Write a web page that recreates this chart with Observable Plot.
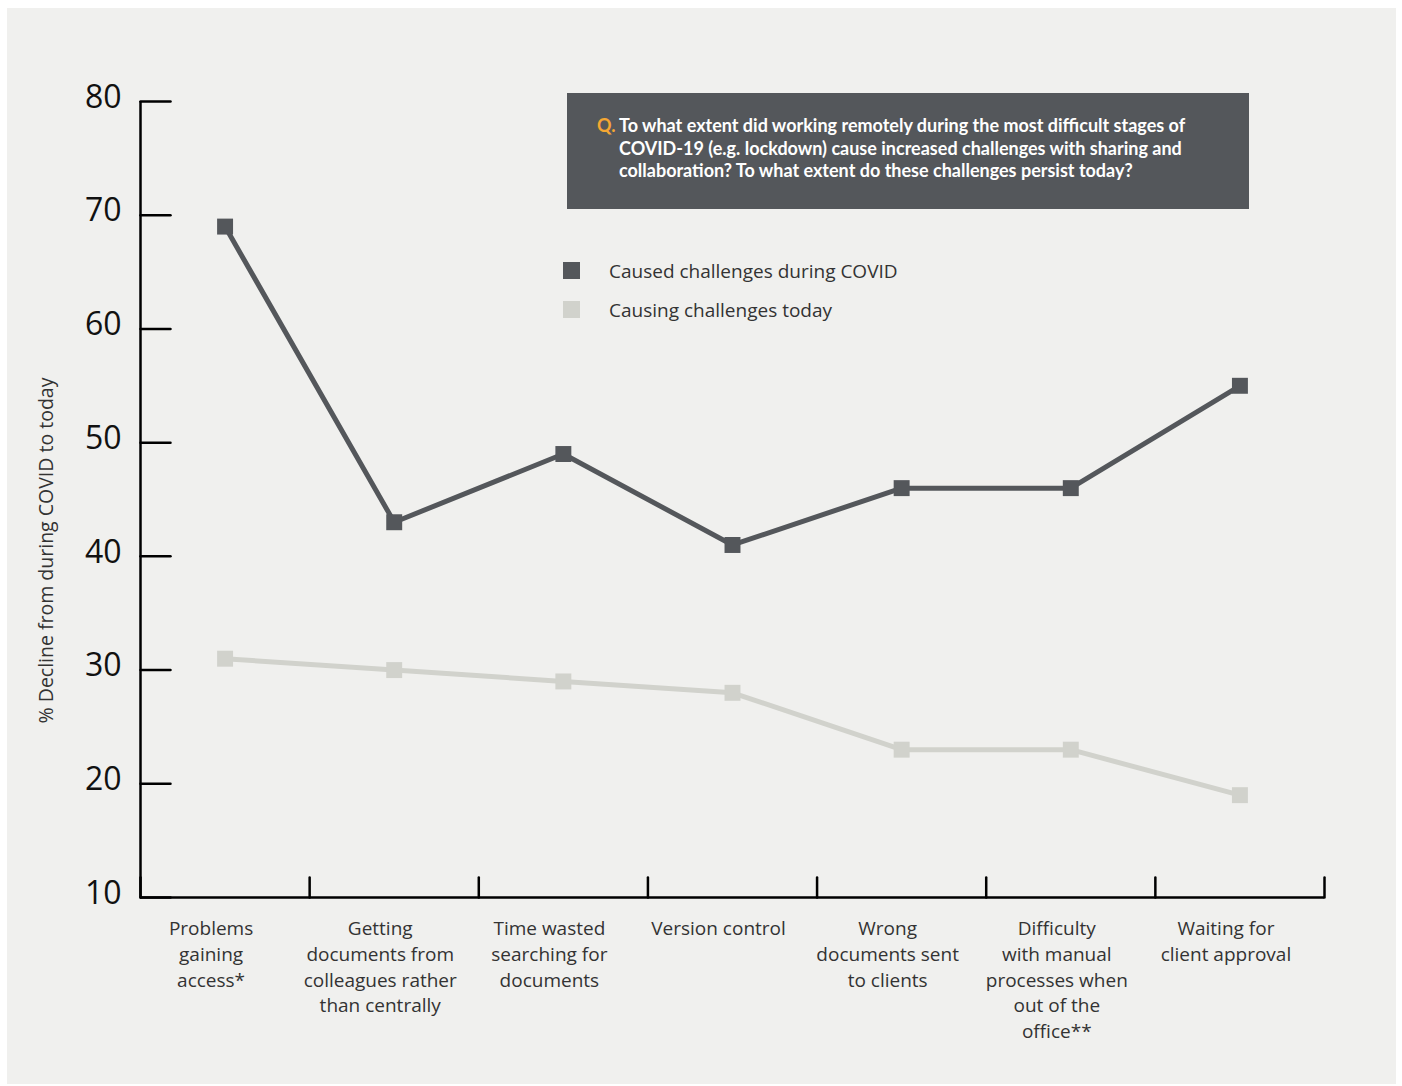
<!DOCTYPE html>
<html>
<head>
<meta charset="utf-8">
<script src="https://cdn.jsdelivr.net/npm/d3@7"></script>
<script src="https://cdn.jsdelivr.net/npm/@observablehq/plot@0.6"></script>
<style>
  html, body { margin: 0; padding: 0; background: #ffffff; }
  #wrap { position: relative; width: 1402px; height: 1086px; overflow: hidden; font-family: "Open Sans", "Noto Sans", sans-serif; }
  #panel { position: absolute; left: 7px; top: 8px; width: 1389px; height: 1076px; background: #f0f0ee; }
  #chart { position: absolute; left: 0; top: 0; }
  #qbox { position: absolute; left: 567px; top: 93px; width: 682px; height: 116px; background: #54575b; box-sizing: border-box; padding: 21px 20px 0 30px; color: #ffffff; font-family: Lato, "Open Sans", sans-serif; font-weight: 700; font-size: 18px; line-height: 22.5px; white-space: nowrap; }
  #qbox .q { color: #f5a733; position: absolute; left: 30px; top: 21px; }
  #qbox .t { margin-left: 22px; }
  #legend { position: absolute; left: 563px; top: 251px; font-size: 19px; color: #333; }
  #legend .row { display: flex; align-items: center; height: 39px; }
  #legend .sw { width: 17px; height: 17px; margin-right: 29px; }
</style>
</head>
<body>
<div id="wrap">
  <div id="panel"></div>
  <div id="chart"></div>
  <div id="qbox"><span class="q">Q.</span><div class="t">To what extent did working remotely during the most difficult stages of<br>COVID-19 (e.g. lockdown) cause increased challenges with sharing and<br>collaboration? To what extent do these challenges persist today?</div></div>
  <div id="legend"></div>
</div>
<script>
const categories = [
  "Problems gaining access*",
  "Getting documents from colleagues rather than centrally",
  "Time wasted searching for documents",
  "Version control",
  "Wrong documents sent to clients",
  "Difficulty with manual processes when out of the office**",
  "Waiting for client approval"
];
const tickLabels = [
  "Problems\ngaining\naccess*",
  "Getting\ndocuments from\ncolleagues rather\nthan centrally",
  "Time wasted\nsearching for\ndocuments",
  "Version control",
  "Wrong\ndocuments sent\nto clients",
  "Difficulty\nwith manual\nprocesses when\nout of the\noffice**",
  "Waiting for\nclient approval"
];
const seriesNames = ["Caused challenges during COVID", "Causing challenges today"];
const duringCovid = [69, 43, 49, 41, 46, 46, 55];
const today = [31, 30, 29, 28, 23, 23, 19];
const yTicks = [10, 20, 30, 40, 50, 60, 70, 80];
const yLabel = "% Decline from during COVID to today";
const colors = ["#54575b", "#d1d2cc"];

const data = [];
categories.forEach((c, i) => {
  data.push({i, cat: c, series: seriesNames[0], v: duringCovid[i]});
  data.push({i, cat: c, series: seriesNames[1], v: today[i]});
});
const n = categories.length;
const boundaries = d3.range(n + 1).map(k => k - 0.5);
const tickShape = {draw(ctx, l) { ctx.moveTo(0, 0); ctx.lineTo(0, -l); }};

const chart = Plot.plot({
  width: 1402,
  height: 1086,
  marginLeft: 140,
  marginRight: 78,
  marginTop: 101,
  marginBottom: 189,
  style: {background: "transparent", fontFamily: "'Open Sans', 'Noto Sans', sans-serif"},
  x: {type: "linear", domain: [-0.5, n - 0.5], axis: null},
  y: {domain: [10, 80], axis: null},
  color: {domain: seriesNames, range: colors},
  marks: [
    Plot.ruleX([-0.5], {y1: 10, y2: 80, stroke: "#000", strokeWidth: 2.5}),
    Plot.ruleY([10], {x1: -0.5, x2: n - 0.5, stroke: "#000", strokeWidth: 2.5}),
    Plot.vector(yTicks, {x: () => -0.5, y: d => d, length: 30, rotate: 90, anchor: "start", stroke: "#000", strokeWidth: 2.5, shape: tickShape}),
    Plot.vector(boundaries, {x: d => d, y: () => 10, length: 20, rotate: 0, anchor: "start", stroke: "#000", strokeWidth: 2.5, shape: tickShape}),
    Plot.axisY({ticks: yTicks, tickSize: 0, tickPadding: 19, fontSize: 32, dy: -4, fill: "#111", label: null}),
    Plot.axisX({ticks: d3.range(n), tickFormat: i => tickLabels[i], tickSize: 0, tickPadding: 19, fontSize: 19, lineHeight: 1.36, fill: "#333", dx: -14, label: null}),
    Plot.text([yLabel], {frameAnchor: "left", textAnchor: "middle", rotate: -90, dx: -94, dy: 51, fontSize: 19.5, fill: "#333"}),
    Plot.line(data, {x: "i", y: "v", z: "series", stroke: "series", strokeWidth: 5}),
    Plot.dot(data, {x: "i", y: "v", fill: "series", symbol: "square", r: 9})
  ]
});
document.getElementById("chart").appendChild(chart);

const legend = document.getElementById("legend");
seriesNames.forEach((s, k) => {
  const row = document.createElement("div");
  row.className = "row";
  const sw = document.createElement("div");
  sw.className = "sw";
  sw.style.background = colors[k];
  const tx = document.createElement("span");
  tx.textContent = s;
  row.appendChild(sw);
  row.appendChild(tx);
  legend.appendChild(row);
});
</script>
</body>
</html>
